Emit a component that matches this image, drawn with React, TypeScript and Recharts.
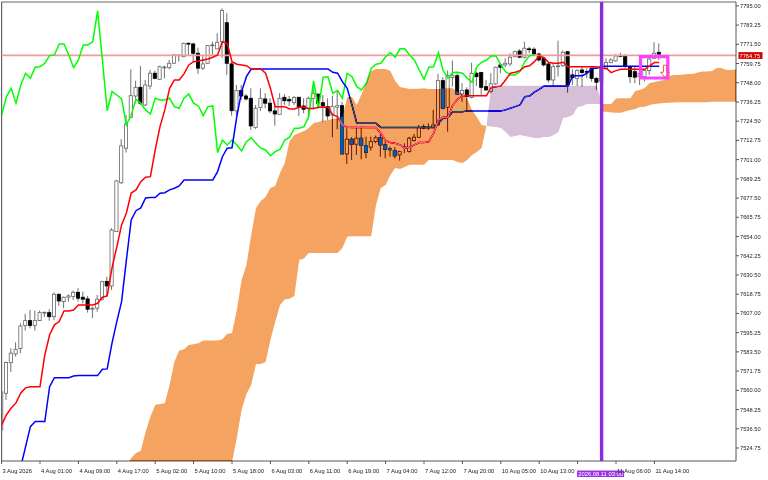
import {
  Area,
  Bar,
  CartesianGrid,
  ComposedChart,
  Line,
  ReferenceArea,
  ReferenceDot,
  ReferenceLine,
  XAxis,
  YAxis,
} from "recharts";

// H1 bars, first bar = 3 Aug 2026. Everything.
const opens = [
  7535.8, 7558.2, 7576.9, 7582.2, 7585.5, 7599.6, 7602.6, 7599.6, 7602.6, 7607.5,
  7607.5, 7605, 7618.7, 7614.2, 7616.9, 7617.3, 7619.9, 7616.9, 7615.9, 7609.6,
  7610.2, 7615.7, 7626.6, 7623.8, 7657, 7686.9, 7708, 7726.7, 7739.9, 7745.2,
  7734.4, 7746, 7753.8, 7750.1, 7757.4, 7757.2, 7759.9, 7764.8, 7763.9, 7772.1,
  7771.7, 7766, 7756.9, 7759.9, 7770.9, 7768.7, 7773.1, 7784.7, 7759.5, 7730.8,
  7743.2, 7739.9, 7738.5, 7720.6, 7732.8, 7738.1, 7735.5, 7730.8, 7728.7, 7739.1,
  7737.7, 7735.8, 7739.1, 7733.8, 7732.2, 7738.5, 7741, 7735.8, 7733.4, 7728.3,
  7733, 7734, 7704.5, 7713.5, 7710.4, 7714.1, 7709.6, 7708.6, 7712, 7714.4,
  7710, 7707.5, 7706.5, 7703.9, 7708.5, 7705.9, 7712.6, 7714.7, 7720.2, 7720.7,
  7720.6, 7722.2, 7749.3, 7733, 7751.1, 7752.3, 7741.1, 7743.6, 7738.9, 7753.8,
  7754.2, 7745.6, 7742.6, 7747.3, 7758.9, 7758.9, 7759.5, 7763.9, 7767.4, 7763.6,
  7768.7, 7768.5, 7765.6, 7763, 7759.5, 7749.7, 7758.1, 7758.4, 7767, 7752.8,
  7750.7, 7755.8, 7754.9, 7756.9, 7750.7, 7749, 7756.4, 7760.3, 7761.3, 7764.6,
  7764.4, 7757.5, 7754.8, 7751.7, 7751.7, 7755.4, 7763, 7766.6,
];
const highs = [
  7559, 7577.5, 7585.7, 7589.4, 7601, 7606.7, 7609.1, 7608.7, 7608.7, 7608.1,
  7609.6, 7619.9, 7619.3, 7617.3, 7618.7, 7620.9, 7622.4, 7620.3, 7617.7, 7611.1,
  7618.3, 7627, 7629.5, 7659.2, 7688.6, 7713.5, 7728.3, 7756.2, 7749.3, 7758.3,
  7749.7, 7755.8, 7755.4, 7758.4, 7758.4, 7761.9, 7765, 7765.4, 7772.5, 7772.7,
  7772.5, 7769.4, 7764.4, 7771.1, 7773.1, 7778.2, 7793.5, 7790.5, 7760.9, 7746.6,
  7746.6, 7741.1, 7744.6, 7734.4, 7744.6, 7741.6, 7738.5, 7735.6, 7741.6, 7741,
  7739.9, 7739.9, 7739.5, 7738.5, 7739.5, 7746.6, 7741.6, 7740.5, 7738.5, 7739.9,
  7742.6, 7736.4, 7720.2, 7714.7, 7721.2, 7721.2, 7715, 7715, 7715.7, 7716.7,
  7712, 7708.9, 7708.6, 7706.5, 7711, 7715, 7716.7, 7722.2, 7722.6, 7723.2,
  7731.4, 7753.4, 7751.4, 7755.4, 7761.5, 7753.8, 7747.7, 7745.2, 7760.3, 7754.8,
  7754.6, 7749.7, 7753.8, 7757.8, 7759.9, 7763, 7766, 7767.6, 7768.5, 7773.1,
  7770, 7769.7, 7766, 7763.6, 7759.9, 7759.9, 7773.7, 7767.6, 7767.4, 7756.2,
  7756.2, 7757.8, 7756.8, 7757.5, 7751.4, 7760, 7763, 7763, 7765.6, 7766.4,
  7765.6, 7758.3, 7758.3, 7754.8, 7756.2, 7763, 7772.7, 7772.1,
];
const lows = [
  7534.6, 7554.1, 7571.1, 7580.6, 7582.7, 7596.5, 7597.9, 7596.5, 7602.4, 7604.7,
  7602.6, 7603, 7611.6, 7610.2, 7614.2, 7615.2, 7614.2, 7613.2, 7607.5, 7604.1,
  7608.1, 7614.8, 7617.3, 7621.4, 7656.8, 7686.1, 7705.3, 7726.3, 7735.5, 7734.4,
  7733.8, 7744, 7750.1, 7749.7, 7750.7, 7756.2, 7759.5, 7760.9, 7763.6, 7764.6,
  7760.5, 7753.4, 7755.8, 7759.5, 7765, 7768.5, 7763.2, 7752.8, 7727.9, 7727.9,
  7737.5, 7737, 7719.1, 7719.8, 7730.8, 7732.4, 7729.4, 7721.8, 7728.3, 7734.4,
  7733.8, 7734.4, 7727.7, 7729.4, 7725.7, 7731.8, 7732.4, 7724.2, 7725.3, 7714.7,
  7719.6, 7704.3, 7698.4, 7700.8, 7703.9, 7701.2, 7701.8, 7706.5, 7711, 7702.8,
  7701.8, 7702.8, 7701.8, 7700.4, 7704.9, 7705.3, 7712, 7714.1, 7719.6, 7719.1,
  7720.2, 7721.8, 7731.8, 7718.1, 7745.6, 7740.5, 7736.4, 7731.4, 7738.5, 7746,
  7739.9, 7743.2, 7741.6, 7746.6, 7753.8, 7757.5, 7758.3, 7763.6, 7763, 7763,
  7766, 7765, 7760.9, 7757.9, 7748, 7746, 7751.7, 7757.8, 7741.9, 7746.6,
  7746, 7745.6, 7750.7, 7748.7, 7743.6, 7748, 7756.2, 7759.9, 7760.9, 7763.6,
  7756.9, 7747.7, 7747.7, 7746.6, 7748.7, 7752.8, 7762.4, 7761.9,
];
const closes = [
  7559, 7577, 7582.7, 7585.1, 7599.3, 7602.6, 7599.6, 7602.6, 7607.5, 7607.7,
  7605, 7618.7, 7614.6, 7616.9, 7617.7, 7619.9, 7616.3, 7615.7, 7609.6, 7610.2,
  7615.7, 7626.4, 7623.8, 7658, 7688, 7709.4, 7722.8, 7740.1, 7745.2, 7735.5,
  7746.6, 7753.8, 7750.7, 7757.8, 7757.6, 7759.9, 7765, 7765, 7772.1, 7771.7,
  7766, 7756.9, 7759.5, 7770.7, 7771.1, 7772.7, 7792.1, 7759.9, 7730.9, 7743.2,
  7739.9, 7738.1, 7721.6, 7732.4, 7738.5, 7735.5, 7730.8, 7728.9, 7738.5, 7737,
  7736.9, 7738.9, 7733.4, 7731.8, 7738.5, 7741.6, 7735.5, 7733.8, 7727.7, 7733.4,
  7734, 7704.5, 7713.5, 7710.4, 7714.1, 7709.6, 7705.5, 7712, 7714.4, 7710,
  7707.3, 7707.2, 7703.3, 7705.9, 7708.8, 7714.1, 7714.7, 7720.6, 7721.2, 7720.9,
  7722.2, 7749.3, 7732.4, 7752.3, 7752.3, 7741.1, 7743.2, 7739.5, 7753.8, 7751.7,
  7745.2, 7743.6, 7747.3, 7757.5, 7757.5, 7759.9, 7763.6, 7767, 7763.6, 7769.1,
  7768.3, 7765.6, 7761.9, 7758.9, 7749.7, 7757.8, 7758.3, 7766.6, 7746.6, 7751.1,
  7755.4, 7754.2, 7754.7, 7750.7, 7748.3, 7757, 7760.3, 7761.9, 7764.4, 7764.2,
  7758.3, 7751.7, 7751.4, 7753.8, 7755.4, 7762.5, 7766, 7764.75,
];
const tenkan = [
  7538.8, 7545, 7549.2, 7552.3, 7558.4, 7561.5, 7562.2, 7562.2, 7562.2, 7581.6,
  7593.8, 7600, 7602, 7608.5, 7608.5, 7609.1, 7612.2, 7612.2, 7612.2, 7612.2,
  7613.2, 7616.9, 7617.7, 7634.8, 7647.6, 7661.1, 7668.4, 7680.6, 7682.5, 7687.5,
  7690.2, 7690.6, 7706.9, 7721.2, 7731.4, 7744.6, 7749.7, 7749.7, 7753.4, 7758.9,
  7760.9, 7761.3, 7761.9, 7762.5, 7763.6, 7765, 7773.1, 7772.1, 7760.9, 7759.3,
  7758.9, 7758.4, 7756.4, 7756.4, 7756.4, 7753.8, 7744.6, 7733.4, 7733.4, 7733.4,
  7732, 7732, 7733, 7733, 7732.2, 7732.2, 7733, 7733, 7733, 7728.3,
  7727.3, 7722.2, 7720.8, 7720.6, 7720.6, 7720.6, 7720.6, 7720.6, 7720.6, 7717.1,
  7712.6, 7711.4, 7711, 7710, 7708, 7708.6, 7710, 7711.4, 7711.4, 7712,
  7717.1, 7725.2, 7726.9, 7726.9, 7734.4, 7737.9, 7740.1, 7740.1, 7740.1, 7740.1,
  7740.1, 7740.1, 7745.2, 7745.6, 7746, 7749.7, 7753.8, 7754.4, 7755.4, 7757.8,
  7758.4, 7760.9, 7764.4, 7763.3, 7760.3, 7759.9, 7759.9, 7760.5, 7757.8, 7757.8,
  7757.8, 7757.8, 7757.8, 7757.8, 7757.8, 7756.9, 7756.9, 7754.2, 7755.4, 7756.2,
  7756.2, 7756.2, 7756.2, 7756.2, 7756.2, 7758.3, 7760.3, 7760.3,
];
const kijun = [
  null, null, null, null, 7513.4, 7525.6, 7537.8, 7540.9, 7540.9, 7540.9,
  7562.2, 7567.7, 7567.7, 7567.7, 7567.7, 7568.8, 7569, 7569, 7569, 7569,
  7569, 7572.9, 7573.1, 7588.8, 7602, 7614.2, 7639.7, 7664.1, 7669.8, 7671.5,
  7677.6, 7677.8, 7677.8, 7680.5, 7680.8, 7682.5, 7683.5, 7684.9, 7688.6, 7688.6,
  7688.6, 7688.6, 7688.6, 7688.6, 7688.6, 7693.7, 7702.8, 7708, 7708.3, 7727.3,
  7742.6, 7751.7, 7756.4, 7756.4, 7756.4, 7756.4, 7756.4, 7756.4, 7756.4, 7756.4,
  7756.4, 7756.4, 7756.4, 7756.4, 7756.4, 7756.4, 7756.4, 7756.4, 7756.4, 7754.4,
  7753.8, 7748.7, 7744.6, 7734.4, 7723.2, 7723.2, 7723.2, 7723.2, 7723.2, 7720.6,
  7720.6, 7720.6, 7720.6, 7720.6, 7720.6, 7720.6, 7720.6, 7720.6, 7720.6, 7720.6,
  7720.6, 7723.2, 7726.3, 7726.9, 7730.3, 7730.3, 7730.3, 7730.8, 7730.8, 7730.8,
  7730.8, 7730.8, 7730.8, 7730.8, 7730.8, 7731.4, 7732.4, 7733.4, 7734.4, 7739.5,
  7739.9, 7742.2, 7744, 7746, 7746, 7746, 7746, 7746, 7746, 7752.3,
  7752.3, 7752.3, 7753.8, 7756.9, 7756.9, 7758.1, 7758.1, 7758.1, 7758.1, 7758.1,
  7758.1, 7758.1, 7758.1, 7758.1, 7758.1, 7758.1, 7758.1, 7758.1,
];
const chikou = [
  7728.3, 7739.5, 7744.6, 7735.5, 7746.6, 7753.8, 7750.7, 7757.5, 7757.8, 7759.9,
  7764.6, 7765, 7771.7, 7771.7, 7765, 7757.2, 7761.9, 7771.1, 7771.1, 7773.1,
  7791.9, 7761.9, 7730.9, 7742.6, 7740.5, 7738.1, 7722.2, 7728.3, 7737.9, 7735.5,
  7731.4, 7728.9, 7738.5, 7737.5, 7737.5, 7738.5, 7733.4, 7732.4, 7738.5, 7741.1,
  7735.5, 7733.8, 7727.9, 7733.4, 7733.8, 7705.3, 7713, 7710, 7713, 7710,
  7706.3, 7712, 7714.3, 7711, 7708, 7706.9, 7703.4, 7705.9, 7707.3, 7713,
  7714.7, 7720.2, 7720.2, 7721.2, 7727.3, 7749.1, 7732.4, 7751.4, 7751.7, 7741.6,
  7743.2, 7738.5, 7753.8, 7751.7, 7745.6, 7743.6, 7747.7, 7756.8, 7759.3, 7759.9,
  7763.9, 7766.4, 7763.6, 7768.7, 7768.7, 7765, 7761.9, 7755.8, 7750.1, 7757.5,
  7757.8, 7766.4, 7755.4, 7750.7, 7754.2, 7754.4, 7753.8, 7750.7, 7748.3, 7757.8,
  7760.5, 7761.9, 7764.4, 7764.4, 7758.9, 7754.8, 7752.8, 7752.8, 7754.8, 7760.9,
  7764.6, 7765,
];
const spanA = [
  null, null, null, null, null, null, null, null, null, null,
  null, null, null, null, null, null, null, null, null, null,
  null, null, null, null, null, null, 7513.7, 7518.7, 7521.7, 7523.1,
  7534.7, 7543.9, 7551.1, 7551.7, 7552.1, 7563.3, 7577.5, 7584.3, 7585.1, 7587.7,
  7588.2, 7588.8, 7590.4, 7590.4, 7590.4, 7590.4, 7591.2, 7594.5, 7595.1, 7609.1,
  7627.5, 7636.6, 7655, 7671.5, 7675.7, 7678.2, 7683.7, 7684.9, 7692.9, 7699,
  7712.4, 7716.1, 7717.3, 7718.5, 7720.4, 7723.4, 7724, 7724.8, 7725.2, 7725.9,
  7726.5, 7727.1, 7739.3, 7739.3, 7734.4, 7741.1, 7747.9, 7755.2, 7756.4, 7756.4,
  7756.4, 7755.2, 7749.1, 7745.4, 7744.8, 7744.2, 7744.4, 7744.4, 7744.6, 7744.2,
  7744.2, 7744.2, 7744.5, 7744.6, 7744.6, 7742.4, 7741.1, 7738.4, 7731.4, 7727.1,
  7722.2, 7721.6, 7721.3, 7721, 7720.4, 7717.9, 7714.9, 7715.5, 7716.1, 7715.5,
  7714.9, 7714.3, 7714.3, 7714.9, 7714.9, 7716.1, 7717.9, 7726.5, 7727.1, 7728.3,
  7733.2, 7733.8, 7735, 7735, 7735, 7735, 7735, 7735, 7738.4, 7738.5,
  7738.5, 7738.5, 7743, 7743.6, 7744.8, 7747.9, 7748.5, 7749.1, 7749.7, 7752.1,
  7752.8, 7752.8, 7753.1, 7753.4, 7753.4, 7754.3, 7754.8, 7754.8, 7755.2, 7757,
  7757, 7755.8, 7755.8, 7756.1,
];
const spanB = [
  null, null, null, null, null, null, null, null, null, null,
  null, null, null, null, null, null, null, null, null, null,
  null, null, null, null, null, null, 7505, 7505, 7505, 7505,
  7505, 7505, 7505, 7505, 7505, 7505, 7505, 7505, 7505, 7505,
  7505, 7505, 7505, 7505, 7505, 7505, 7505, 7505, 7516.2, 7530.9,
  7548, 7557.8, 7563.3, 7576.1, 7576.1, 7577.3, 7590.8, 7601.8, 7612.2, 7615.5,
  7615.9, 7617.7, 7639.7, 7640.6, 7644, 7644, 7644, 7644, 7644, 7644,
  7644, 7647, 7653.9, 7654.1, 7654.1, 7654.1, 7654.1, 7654.1, 7673.3, 7683.7,
  7685.5, 7691.6, 7695.9, 7695.3, 7696.5, 7697.8, 7697.8, 7697.8, 7697.8, 7700.8,
  7700.8, 7700.8, 7700.8, 7700.8, 7700.8, 7699.6, 7699, 7700.8, 7703.9, 7705.7,
  7708.1, 7721.6, 7745.4, 7746, 7746, 7746.2, 7746.2, 7746.2, 7746.2, 7746.2,
  7746.2, 7746.2, 7746.2, 7746.2, 7746.2, 7746.2, 7746.2, 7746.2, 7746.2, 7746.2,
  7746.2, 7746.2, 7746.2, 7746.2, 7746.2, 7730.3, 7730.3, 7729.8, 7729.7, 7729.7,
  7730.5, 7731.4, 7732, 7733.2, 7733.4, 7734.4, 7735, 7735.3, 7735.6, 7735.8,
  7735.9, 7736.1, 7736.1, 7736.1, 7736.1, 7736.1, 7736.1, 7736.1, 7736.4, 7736.4,
  7736.4, 7736.4, 7736.4, 7736.4,
];

const xTicks = [0, 8, 16, 24, 32, 40, 48, 56, 64, 72, 80, 88, 96, 104, 112, 120, 128, 136];
// the label at bar 120 sits behind the cursor tag in the terminal, so it stays empty
const xLabels = [
  "3 Aug 2026", "4 Aug 01:00", "4 Aug 09:00", "4 Aug 17:00", "5 Aug 02:00", "5 Aug 10:00",
  "5 Aug 18:00", "6 Aug 03:00", "6 Aug 11:00", "6 Aug 19:00", "7 Aug 04:00", "7 Aug 12:00",
  "7 Aug 20:00", "10 Aug 05:00", "10 Aug 13:00", "", "11 Aug 06:00", "11 Aug 14:00",
];
const yTicks = [
  7795, 7783.25, 7771.5, 7759.75, 7748, 7736.25, 7724.5, 7712.75, 7701, 7689.25, 7677.5, 7665.75,
  7654, 7642.25, 7630.5, 7618.75, 7607, 7595.25, 7583.5, 7571.75, 7560, 7548.25, 7536.5, 7524.75,
];

const lastPrice = 7764.75;
const cursorBar = 125;
const cursorLabel = "2026.08.11 03:00";

const FONT = "'Liberation Sans', Arial, sans-serif";
const TEXT = "#1a1a1a";

const rows = spanA.map((_, i) => {
  const a = spanA[i];
  const b = spanB[i];
  const hasCloud = a != null && b != null;
  const prevA = i > 0 ? spanA[i - 1] : null;
  const prevB = i > 0 ? spanB[i - 1] : null;
  const prevPurple = prevA != null && prevB != null && prevB > prevA;
  return {
    i,
    open: opens[i],
    high: highs[i],
    low: lows[i],
    close: closes[i],
    range: i < opens.length ? [lows[i], highs[i]] : null,
    tenkan: i < tenkan.length ? tenkan[i] : null,
    kijun: i < kijun.length ? kijun[i] : null,
    chikou: i < chikou.length ? chikou[i] : null,
    orange: hasCloud && a >= b ? [b, a] : null,
    // the purple part closes on its own where the spans swap
    purple: hasCloud && b >= a ? [a, b] : hasCloud && prevPurple ? [a, a] : null,
  };
});

// one candle, the library gives us the low-high box and we split it for the body
function Candle(props: any) {
  const { x, y, width, height, payload } = props;
  if (!payload || payload.range == null) return null;
  const top = Math.min(y, y + height);
  const h = Math.abs(height);
  const cx = x + width / 2;
  const perUnit = h / (payload.high - payload.low);
  const bodyTop = top + (payload.high - Math.max(payload.open, payload.close)) * perUnit;
  const bodyH = Math.max(Math.abs(payload.close - payload.open) * perUnit, 0.8);
  const up = payload.close >= payload.open;
  return (
    <g>
      <line x1={cx} x2={cx} y1={top} y2={top + h} stroke="#555" strokeWidth={0.85} />
      <rect
        x={cx - 1.6}
        y={bodyTop}
        width={3.2}
        height={bodyH}
        fill={up ? "#fff" : "#000"}
        stroke={up ? "#666" : "#000"}
        strokeWidth={0.8}
      />
    </g>
  );
}

function TimeTick({ x, y, payload }: any) {
  return (
    <text x={x + 1} y={y + 7} fontSize={5.8} fontFamily={FONT} fill={TEXT}>
      {xLabels[xTicks.indexOf(payload.value)]}
    </text>
  );
}

function PriceTag({ viewBox }: any) {
  const x = viewBox.x + viewBox.width;
  return (
    <g>
      <rect x={x + 2.5} y={viewBox.y - 3.2} width={24} height={6.8} fill="#d40000" />
      <text x={x + 3.5} y={viewBox.y + 2.2} fontSize={5.7} fontFamily={FONT} fill="#fff">
        {lastPrice.toFixed(2)}
      </text>
    </g>
  );
}

function CursorTag({ viewBox }: any) {
  const y = viewBox.y + viewBox.height;
  return (
    <g>
      <rect x={viewBox.x - 24.5} y={y + 9.5} width={47} height={6.5} fill="#9932e6" />
      <text x={viewBox.x - 1} y={y + 15} fontSize={5.8} fontFamily={FONT} fill="#fff" textAnchor="middle">
        {cursorLabel}
      </text>
    </g>
  );
}

function DownArrow({ cx, cy }: any) {
  const d = `M${cx - 1.5} ${cy - 6}V${cy + 1}H${cx - 4.5}L${cx} ${cy + 6}L${cx + 4.5} ${cy + 1}H${cx + 1.5}V${cy - 6}Z`;
  return <path d={d} fill="none" stroke="#f25a5a" strokeWidth={1} />;
}

export default function App() {
  return (
    <div style={{ position: "absolute", left: 0, top: 0, width: 768, height: 480, background: "#fff" }}>
      {/* cloud is drawn like MT5 does it: blended over the candles and lines */}
      <style>{`.cloud-xor { mix-blend-mode: difference; }`}</style>
      <ComposedChart
        width={768}
        height={480}
        data={rows}
        margin={{ top: 2, right: 0, bottom: 0, left: 1.6 }}
      >
        <CartesianGrid horizontal={false} vertical={false} fill="#fff" />
        <XAxis
          dataKey="i"
          type="number"
          domain={[0, 153]}
          ticks={xTicks}
          interval={0}
          height={19}
          tickSize={3}
          tick={<TimeTick />}
          stroke="#555"
          allowDataOverflow
        />
        <YAxis
          orientation="right"
          type="number"
          domain={[7516.8, 7797.35]}
          ticks={yTicks}
          interval={0}
          width={32}
          tickSize={3}
          tickMargin={1}
          tickFormatter={(v: number) => v.toFixed(2)}
          tick={{ fontSize: 5.7, fontFamily: FONT, fill: TEXT }}
          stroke="#555"
          allowDataOverflow
        />
        <ReferenceLine x={0} stroke="#666" strokeWidth={1.2} />
        <ReferenceLine y={7797.35} stroke="#666" strokeWidth={1.2} />
        <ReferenceLine y={lastPrice} stroke="#f29a9a" strokeWidth={1.6} label={<PriceTag />} />
        <Bar dataKey="range" barSize={4} shape={<Candle />} isAnimationActive={false} />
        <Line dataKey="chikou" stroke="#00ff00" strokeWidth={1.5} dot={false} isAnimationActive={false} />
        <Line dataKey="kijun" stroke="#0000ff" strokeWidth={1.5} dot={false} isAnimationActive={false} />
        <Line dataKey="tenkan" stroke="#ff0000" strokeWidth={1.5} dot={false} isAnimationActive={false} />
        <Area
          dataKey="orange"
          className="cloud-xor"
          fill="#0b5b9f"
          fillOpacity={1}
          stroke="none"
          dot={false}
          activeDot={false}
          isAnimationActive={false}
          zIndex={900}
        />
        <Area
          dataKey="purple"
          className="cloud-xor"
          fill="#274027"
          fillOpacity={1}
          stroke="none"
          dot={false}
          activeDot={false}
          isAnimationActive={false}
          zIndex={900}
        />
        <ReferenceLine
          x={cursorBar}
          stroke="#8a2be2"
          strokeWidth={3.4}
          label={<CursorTag />}
          zIndex={950}
        />
        <ReferenceArea
          x1={133.1}
          x2={138.8}
          y1={7750.9}
          y2={7764}
          fill="none"
          stroke="#ff40ff"
          strokeWidth={3.2}
          zIndex={960}
        />
        <ReferenceDot x={138.2} y={7755} r={5} shape={<DownArrow />} zIndex={960} />
      </ComposedChart>
    </div>
  );
}
